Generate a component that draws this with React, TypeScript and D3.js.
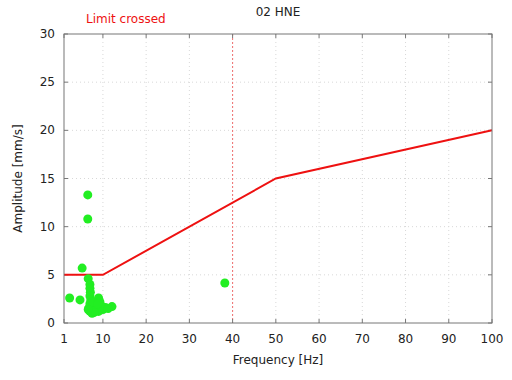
import React from "react";
import * as d3 from "d3";

const title = "02 HNE";
const xTicks = [1, 10, 20, 30, 40, 50, 60, 70, 80, 90, 100];
const yTicks = [0, 5, 10, 15, 20, 25, 30];
const limitFreq = [1, 10, 50, 100];
const limitAmp = [5, 5, 15, 20];
const markerFreq = 40;
const pointFreq = [6.5, 6.5, 5.2, 2.3, 4.7, 6.6, 7.0, 7.0, 7.1, 7.0, 7.2, 7.0, 6.8, 7.0, 7.5, 8.0, 8.5, 9.0, 9.3, 9.6, 10.0, 10.6, 9.0, 8.0, 12.1, 11.2, 7.6, 6.6, 8.8, 38.2];
const pointAmp = [13.3, 10.8, 5.7, 2.6, 2.4, 4.6, 4.0, 3.6, 3.2, 2.8, 2.4, 2.0, 1.6, 1.2, 1.0, 1.5, 1.8, 2.6, 2.2, 1.8, 1.4, 1.6, 1.2, 1.1, 1.7, 1.5, 2.2, 1.4, 2.0, 4.15];

export default function App() {
  const W = 512, H = 380;
  const left = 64, right = 492, top = 34, bottom = 323;
  const x = d3.scaleLinear().domain([1, 100]).range([left, right]);
  const y = d3.scaleLinear().domain([0, 30]).range([bottom, top]);
  const line = d3.line<number>().x((d) => x(limitFreq[d])).y((d) => y(limitAmp[d]));
  const font = "'DejaVu Sans', sans-serif";
  const tl = 4;
  return (
    <svg width={W} height={H} style={{ position: "absolute", left: 0, top: 0 }} fontFamily={font}>
      <rect width={W} height={H} fill="#fff" />
      {xTicks.slice(1, -1).map((t) => (
        <line key={"gx" + t} x1={x(t)} x2={x(t)} y1={top} y2={bottom} stroke="#d8d8d8" strokeWidth={1} strokeDasharray="1,3" />
      ))}
      {yTicks.slice(1, -1).map((t) => (
        <line key={"gy" + t} x1={left} x2={right} y1={y(t)} y2={y(t)} stroke="#d8d8d8" strokeWidth={1} strokeDasharray="1,3" />
      ))}
      <line x1={x(markerFreq)} x2={x(markerFreq)} y1={top} y2={bottom} stroke="#f07070" strokeWidth={1} strokeDasharray="2,2" />
      {xTicks.map((t) => (
        <g key={"tx" + t}>
          <line x1={x(t)} x2={x(t)} y1={bottom} y2={bottom - tl} stroke="#777" />
          <line x1={x(t)} x2={x(t)} y1={top} y2={top + tl} stroke="#777" />
          <text x={x(t)} y={bottom + 20} fontSize={12} textAnchor="middle" fill="#222">{t}</text>
        </g>
      ))}
      {yTicks.map((t) => (
        <g key={"ty" + t}>
          <line x1={left} x2={left + tl} y1={y(t)} y2={y(t)} stroke="#777" />
          <line x1={right} x2={right - tl} y1={y(t)} y2={y(t)} stroke="#777" />
          <text x={left - 9} y={y(t) + 4} fontSize={12} textAnchor="end" fill="#222">{t}</text>
        </g>
      ))}
      <path d={line(d3.range(limitFreq.length)) || ""} fill="none" stroke="#ee1111" strokeWidth={2} />
      {pointFreq.map((f, i) => (
        <circle key={"p" + i} cx={x(f)} cy={y(pointAmp[i])} r={4.5} fill="#22ee22" />
      ))}
      <rect x={left} y={top} width={right - left} height={bottom - top} fill="none" stroke="#777" strokeWidth={1} />
      <text x={278} y={16} fontSize={12} textAnchor="middle" fill="#222">{title}</text>
      <text x={86} y={23} fontSize={12} fill="#ee1111">Limit crossed</text>
      <text x={278} y={364} fontSize={12} textAnchor="middle" fill="#222">Frequency [Hz]</text>
      <text transform={`translate(22,${(top + bottom) / 2}) rotate(-90)`} fontSize={12} textAnchor="middle" fill="#222">Amplitude [mm/s]</text>
    </svg>
  );
}
